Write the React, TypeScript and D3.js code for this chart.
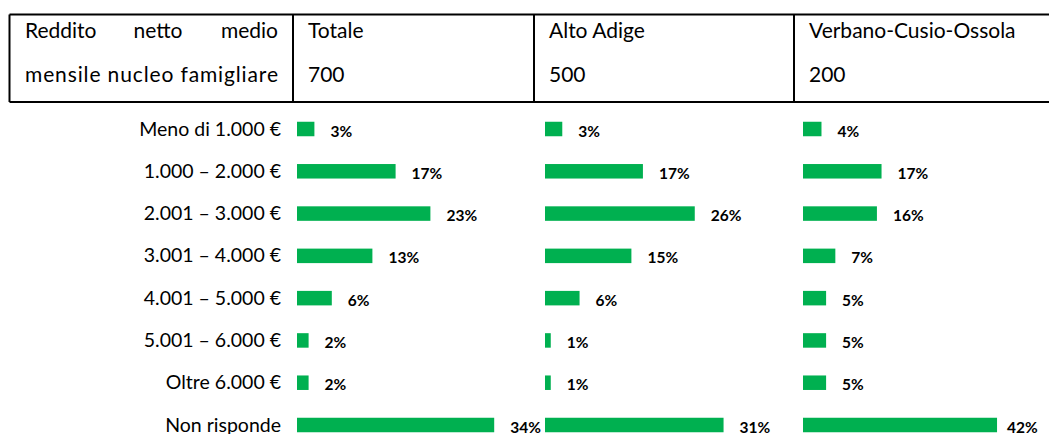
import * as React from 'react';
import * as d3 from "d3";

const categories = [
    "Meno di 1.000 €",
    "1.000 – 2.000 €",
    "2.001 – 3.000 €",
    "3.001 – 4.000 €",
    "4.001 – 5.000 €",
    "5.001 – 6.000 €",
    "Oltre 6.000 €",
    "Non risponde",
];

const groupNames = ["Totale", "Alto Adige", "Verbano-Cusio-Ossola"];
const groupCounts = ["700", "500", "200"];

const totale = [3, 17, 23, 13, 6, 2, 2, 34];
const altoAdige = [3, 17, 26, 15, 6, 1, 1, 31];
const vco = [4, 17, 16, 7, 5, 5, 5, 42];

const W = 1049;
const H = 434;
const GREEN = "#00B050";
const FONT = "Lato, 'Open Sans', sans-serif";

interface Column {
    name: string;
    count: string;
    values: number[];
    cellX: number;   // left border of header cell
    barX: number;    // where bars start
    fullWidth: number; // px for 100%
}

const columns: Column[] = [
    { name: groupNames[0], count: groupCounts[0], values: totale, cellX: 293, barX: 297, fullWidth: 580 },
    { name: groupNames[1], count: groupCounts[1], values: altoAdige, cellX: 534, barX: 545, fullWidth: 576 },
    { name: groupNames[2], count: groupCounts[2], values: vco, cellX: 794, barX: 803, fullWidth: 462 },
];

export default function App() {
    const y = d3.scalePoint<string>()
        .domain(categories)
        .range([129, 425]);

    const barH = 14.5;
    const tableTop = 14.5;
    const tableBottom = 102;

    return (
        <svg width={W} height={H} style={{ position: "absolute", left: 0, top: 0, background: "#fff" }}
            fontFamily={FONT}>
            <rect width={W} height={H} fill="#fff" />

            {/* header table */}
            <g stroke="#000" strokeWidth={2}>
                <line x1={9.5} x2={W} y1={tableTop} y2={tableTop} />
                <line x1={9.5} x2={W} y1={tableBottom} y2={tableBottom} />
                <line x1={9.5} x2={9.5} y1={tableTop} y2={tableBottom} />
                {columns.map((c, i) => (
                    <line key={i} x1={c.cellX} x2={c.cellX} y1={tableTop} y2={tableBottom} />
                ))}
            </g>
            <g fontSize={21} fill="#000">
                <text x={25} y={37.5}>Reddito</text>
                <text x={158} y={37.5} textAnchor="middle">netto</text>
                <text x={278} y={37.5} textAnchor="end">medio</text>
                <text x={25} y={82} textLength={253} lengthAdjust="spacing">mensile nucleo famigliare</text>
                {columns.map((c, i) => (
                    <g key={i}>
                        <text x={c.cellX + 15} y={37.5}>{c.name}</text>
                        <text x={c.cellX + 15} y={82}>{c.count}</text>
                    </g>
                ))}
            </g>

            {/* category labels */}
            <g fontSize={19.5} fill="#000" textAnchor="end">
                {categories.map(cat => (
                    <text key={cat} x={281} y={(y(cat) ?? 0) + 6.5}>{cat}</text>
                ))}
            </g>

            {/* bars */}
            {columns.map((c, ci) => {
                const x = d3.scaleLinear().domain([0, 100]).range([0, c.fullWidth]);
                return (
                    <g key={ci}>
                        {c.values.map((v, i) => {
                            const cy = y(categories[i]) ?? 0;
                            const end = c.barX + x(v);
                            const lx = Math.min(end + 16, W - 42);
                            return (
                                <g key={i}>
                                    <rect x={c.barX} y={cy - barH / 2} width={x(v)} height={barH} fill={GREEN} />
                                    <text x={lx} y={cy + 7.5} fontSize={15.5} fontWeight="bold" fill="#000">{v}%</text>
                                </g>
                            );
                        })}
                    </g>
                );
            })}
        </svg>
    );
}
